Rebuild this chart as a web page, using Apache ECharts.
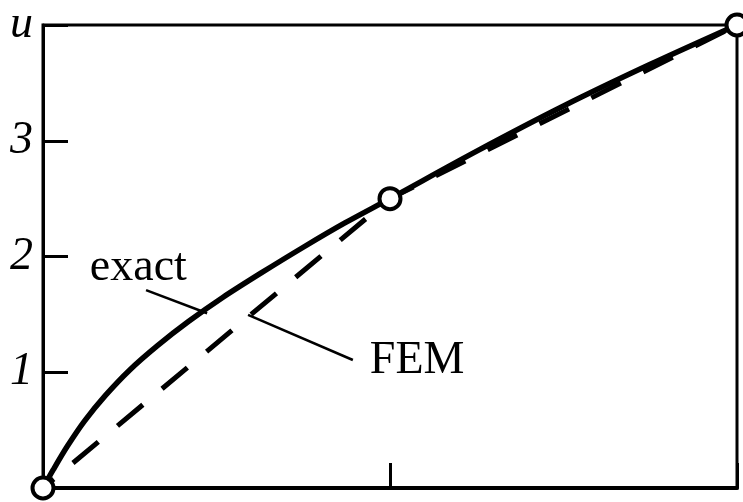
<!DOCTYPE html>
<html>
<head>
<meta charset="utf-8">
<style>
  html, body { margin: 0; padding: 0; background: #fff; }
  #chart { width: 743px; height: 502px; }
</style>
<script src="https://cdn.jsdelivr.net/npm/echarts@6/dist/echarts.min.js"></script>
</head>
<body>
<div id="chart"></div>
<script>
// Nodal positions and the finite-element (piecewise linear) solution
const nodeX = [0, 1, 2];
const femU = [0, 2.5, 4];

// Exact solution sampled along the bar
const exactX = [0, 0.03, 0.07, 0.12, 0.18, 0.25, 0.33, 0.42, 0.52, 0.63, 0.75, 0.87, 1.0, 1.25, 1.5, 1.75, 2.0];
const exactU = [0, 0.16, 0.36, 0.58, 0.80, 1.02, 1.23, 1.44, 1.65, 1.86, 2.08, 2.29, 2.5, 2.91, 3.30, 3.66, 4.0];

// Y tick labels (value 4 carries the axis symbol)
const yTickLabels = ['', '1', '2', '3', 'u'];

// Annotation leader lines (data units) and label anchors
const exactLeader = [[0.297, 1.71], [0.473, 1.51]];
const femLeader = [[0.591, 1.495], [0.893, 1.106]];
const labelAnchors = [
  { text: 'exact', at: [0.135, 1.797] },
  { text: 'FEM', at: [0.942, 0.994] }
];

const zip = (xs, ys) => xs.map((x, i) => [x, ys[i]]);
const serif = '"Liberation Serif", "Times New Roman", serif';

const chart = echarts.init(document.getElementById('chart'), null, { renderer: 'canvas' });

chart.setOption({
  animation: false,
  backgroundColor: '#fff',
  grid: {
    left: 43, right: 6, top: 25, bottom: 14,
    show: true, borderColor: '#000', borderWidth: 3
  },
  xAxis: {
    type: 'value', min: 0, max: 2, interval: 1,
    axisLine: { lineStyle: { color: '#000', width: 4 } },
    axisTick: { inside: true, length: 25, lineStyle: { color: '#000', width: 3 } },
    axisLabel: { show: false },
    splitLine: { show: false }
  },
  yAxis: {
    type: 'value', min: 0, max: 4, interval: 1,
    axisLine: { show: true, lineStyle: { color: '#000', width: 3 } },
    axisTick: { show: true, inside: true, length: 25, lineStyle: { color: '#000', width: 3 } },
    axisLabel: {
      margin: 10, color: '#000', fontFamily: serif, fontStyle: 'italic', fontSize: 46,
      formatter: v => yTickLabels[Math.round(v)] || ''
    },
    splitLine: { show: false }
  },
  series: [
    {
      name: 'exact', type: 'line', data: zip(exactX, exactU),
      smooth: 0.3, showSymbol: false, symbol: 'none',
      lineStyle: { color: '#000', width: 5.5 }, z: 3
    },
    {
      name: 'FEM', type: 'line', data: zip(nodeX, femU),
      showSymbol: false, symbol: 'none',
      lineStyle: { color: '#000', width: 5, type: [33, 25], dashOffset: 19 }, z: 2
    },
    {
      type: 'line', data: exactLeader, symbol: 'none', showSymbol: false,
      lineStyle: { color: '#000', width: 2.5 }, z: 2
    },
    {
      type: 'line', data: femLeader, symbol: 'none', showSymbol: false,
      lineStyle: { color: '#000', width: 2.5 }, z: 2
    },
    {
      name: 'nodes', type: 'scatter', data: zip(nodeX, femU),
      symbol: 'circle', symbolSize: 21, clip: false,
      itemStyle: { color: '#fff', borderColor: '#000', borderWidth: 4, opacity: 1 }, z: 10
    }
  ]
});

// Text labels placed at their data anchors
chart.setOption({
  graphic: labelAnchors.map(a => {
    const p = chart.convertToPixel({ gridIndex: 0 }, a.at);
    return {
      type: 'text', x: p[0], y: p[1] - 12, z: 20,
      style: {
        text: a.text, fill: '#000', font: '46px ' + serif,
        textAlign: 'left', textVerticalAlign: 'middle'
      }
    };
  })
});
</script>
</body>
</html>
